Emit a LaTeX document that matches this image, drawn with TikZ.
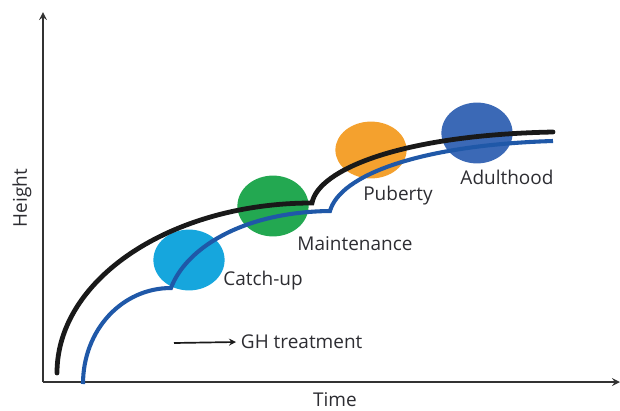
\documentclass[tikz,border=0pt]{standalone}
\usepackage{fontspec}
\setmainfont{Open Sans}
\usetikzlibrary{shapes.geometric}

\definecolor{curveblue}{RGB}{31,88,168}
\definecolor{catchupc}{RGB}{22,166,221}
\definecolor{maintc}{RGB}{35,168,81}
\definecolor{pubertyc}{RGB}{244,161,46}
\definecolor{adultc}{RGB}{59,105,182}
\definecolor{txt}{RGB}{45,45,50}

\tikzstyle{phase}=[shape=ellipse,
                   draw=none,
                   minimum width=1.78cm,
                   minimum height=1.52cm]
\tikzstyle{lbl}=[text=txt,
                 font=\fontsize{13.5}{16}\selectfont]
\tikzstyle{normal}=[line width=3.4pt, color=black!90]
\tikzstyle{treated}=[line width=2.9pt, color=curveblue]

\begin{document}
\begin{tikzpicture}[>=stealth,x=0.025cm,y=-0.025cm]
\useasboundingbox (0,0) rectangle (620,410);

% axes
\coordinate (o) at (43,382);
\coordinate (ytop) at (43,12);
\coordinate (xend) at (620,382);
\draw[line width=1.5pt, black!80, ->] (o) -- (ytop);
\draw[line width=1.5pt, black!80, ->] (o) -- (xend);
\node[lbl, rotate=90] (height) at (22,198) {Height};
\node[lbl] (time) at (335,400) {Time};

% growth phases
\node[phase, fill=catchupc] (catchup) at (189,260) {};
\node[phase, fill=maintc]   (maint)   at (273,206) {};
\node[phase, fill=pubertyc, minimum height=1.42cm] (puberty) at (371,150) {};
\node[phase, fill=adultc]   (adult)   at (477,133) {};

% reference curve
\coordinate (b0) at (57,373);
\coordinate (b1) at (312,203);
\coordinate (b2) at (553,132);
\draw[normal, line cap=round] (b0) .. controls (57,279) and (171,203) .. (b1)
                          .. controls (318,170) and (400,135) .. (b2);

% treated curve
\coordinate (t0) at (83,384);
\coordinate (t1) at (171,288);
\coordinate (t2) at (330,211);
\coordinate (t3) at (553,141);
\draw[treated] (t0) .. controls (83,330) and (122,288) .. (t1)
               .. controls (185,250) and (240,212) .. (t2)
               .. controls (340,175) and (420,145) .. (t3);

% labels
\node[lbl] (lcatch) at (263,281) {Catch-up};
\node[lbl] (lmaint) at (355,244) {Maintenance};
\node[lbl] (lpub)   at (398,196) {Puberty};
\node[lbl] (ladult) at (507,177) {Adulthood};

% treatment key
\coordinate (k0) at (174,343);
\node[lbl, anchor=west] (gh) at (236,342) {GH treatment};
\draw[line width=1.2pt, black!90, ->] (k0) -- (gh.west);

\end{tikzpicture}
\end{document}
